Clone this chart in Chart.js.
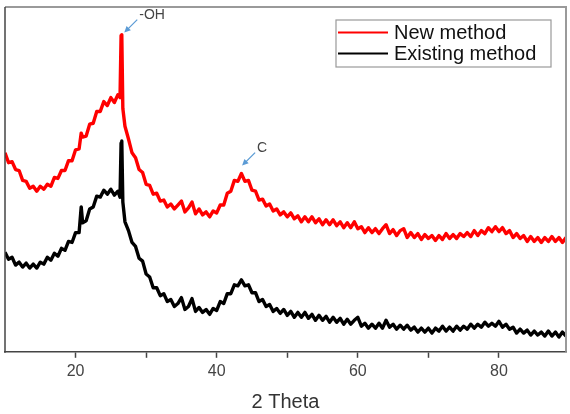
<!DOCTYPE html>
<html>
<head>
<meta charset="utf-8">
<script src="https://cdn.jsdelivr.net/npm/chart.js@4/dist/chart.umd.min.js"></script>
<style>
  html, body { margin: 0; padding: 0; background: #fff; }
  #wrap { width: 570px; height: 414px; }
</style>
</head>
<body>
<div id="wrap"><canvas id="c" width="570" height="414"></canvas></div>
<script>
// ---- data (2θ in degrees, intensity in arbitrary units) ----
const twoTheta = [
  10,10.5,11,11.5,12,12.5,13,13.5,14,14.5,15,15.5,16,16.5,17,17.5,18,18.5,19,19.5,20,20.5,20.8,
  21,21.5,22,22.5,23,23.5,24,24.5,25,25.5,26,26.3,26.45,26.55,26.7,
  27,27.5,28,28.5,29,29.5,30,30.5,31,31.5,32,32.5,33,33.5,34,34.5,35,35.5,36,36.5,37,37.5,38,38.5,39,39.5,
  40,40.5,41,41.5,42,42.5,43,43.5,44,44.5,45,45.5,46,46.5,47,47.5,48,48.5,49,49.5,
  50,50.5,51,51.5,52,52.5,53,53.5,54,54.5,55,55.5,56,56.5,57,57.5,58,58.5,59,59.5,
  60,60.5,61,61.5,62,62.5,63,63.5,64,64.5,65,65.5,66,66.5,67,67.5,68,68.5,69,69.5,
  70,70.5,71,71.5,72,72.5,73,73.5,74,74.5,75,75.5,76,76.5,77,77.5,78,78.5,79,79.5,
  80,80.5,81,81.5,82,82.5,83,83.5,84,84.5,85,85.5,86,86.5,87,87.5,88,88.5,89,89.5
];
const newMethod = [
  202,192,193,185,184,174,173,166,168,163,168,165,170,168,177,176,184,184,194,194,205,206,222,
  218,219,231,232,244,244,254,250,258,253,261,258,321,322,247,
  229,216,202,197,185,182,170,169,160,161,153,154,147,150,145,149,153,142,146,152,140,145,139,142,137,143,
  141,149,149,161,163,174,173,181,173,174,164,163,154,155,148,150,143,145,139,142,
  137,141,135,138,132,137,132,137,131,135,129,134,129,134,128,132,126,131,126,132,
  125,127,121,126,121,125,120,125,129,120,124,118,123,125,116,121,116,120,114,119,
  115,118,113,118,114,120,115,119,115,120,117,121,117,123,118,123,120,126,122,127,
  122,126,120,123,116,120,115,118,112,117,112,116,111,116,112,117,112,116,111,116
];
const existingMethod = [
  101,94,96,88,91,86,90,85,89,85,91,89,96,93,100,97,105,103,112,111,121,121,147,
  131,133,145,147,158,157,164,160,165,159,163,157,212,214,152,
  132,123,111,107,95,92,79,76,65,65,57,59,51,53,46,49,55,43,46,54,41,45,40,43,38,44,
  42,51,49,59,59,68,67,73,67,68,60,60,51,53,46,48,41,44,39,43,
  37,41,35,40,35,40,34,38,32,37,32,36,30,35,30,34,28,33,28,32,
  35,26,29,24,28,24,29,24,32,25,28,23,27,23,27,22,25,20,24,20,
  24,19,24,21,26,21,25,21,26,22,26,23,28,24,28,25,30,26,29,26,
  31,25,28,23,25,19,23,19,22,17,21,17,20,16,21,16,20,15,20,16
];
const seriesNames = ['New method', 'Existing method'];
const seriesColors = ['#ff0000', '#000000'];
const xTickValues = [20, 30, 40, 50, 60, 70, 80];
const xLabelledTicks = [20, 40, 60, 80];
const peakNotes = [
  { text: '-OH', x: 26.9, y: 324 },
  { text: 'C',   x: 43.6, y: 189 }
];

const toPoints = arr => twoTheta.map((x, i) => ({ x: x, y: arr[i] }));

const framePlugin = {
  id: 'frame',
  afterDraw(chart) {
    const { ctx, chartArea: a, scales } = chart;
    ctx.save();
    // top & right frame (light gray)
    ctx.strokeStyle = '#9a9a9a';
    ctx.lineWidth = 2;
    ctx.beginPath();
    ctx.moveTo(a.left, a.top); ctx.lineTo(a.right, a.top); ctx.lineTo(a.right, a.bottom);
    ctx.stroke();
    // left axis line
    ctx.strokeStyle = '#444';
    ctx.lineWidth = 1.5;
    ctx.beginPath();
    ctx.moveTo(a.left, a.top); ctx.lineTo(a.left, a.bottom + 1);
    ctx.stroke();

    // peak annotations
    peakNotes.forEach(n => {
      const tx = scales.x.getPixelForValue(n.x);
      const ty = scales.y.getPixelForValue(n.y);
      const sx = tx + 13, sy = ty - 13;
      ctx.strokeStyle = '#5b9bd5';
      ctx.fillStyle = '#5b9bd5';
      ctx.lineWidth = 1.3;
      ctx.beginPath();
      ctx.moveTo(sx, sy); ctx.lineTo(tx + 3, ty - 3);
      ctx.stroke();
      const ang = Math.atan2(ty - sy, tx - sx);
      ctx.beginPath();
      ctx.moveTo(tx, ty);
      ctx.lineTo(tx - 7 * Math.cos(ang - 0.45), ty - 7 * Math.sin(ang - 0.45));
      ctx.lineTo(tx - 7 * Math.cos(ang + 0.45), ty - 7 * Math.sin(ang + 0.45));
      ctx.closePath();
      ctx.fill();
      ctx.fillStyle = '#444';
      ctx.font = '14px "Liberation Sans", Arial, sans-serif';
      ctx.textAlign = 'left';
      ctx.textBaseline = 'middle';
      ctx.fillText(n.text, sx + 2, sy - 4);
    });

    // legend box
    const lx = 336, ly = 20, lw = 215, lh = 47;
    ctx.fillStyle = '#fff';
    ctx.fillRect(lx, ly, lw, lh);
    ctx.strokeStyle = '#999';
    ctx.lineWidth = 1.2;
    ctx.strokeRect(lx, ly, lw, lh);
    chart.data.datasets.forEach((ds, i) => {
      const yy = ly + 12.5 + i * 21;
      ctx.strokeStyle = ds.borderColor;
      ctx.lineWidth = 2;
      ctx.beginPath();
      ctx.moveTo(lx + 2, yy); ctx.lineTo(lx + 52, yy);
      ctx.stroke();
      ctx.fillStyle = '#111';
      ctx.font = '20px "Liberation Sans", Arial, sans-serif';
      ctx.textAlign = 'left';
      ctx.textBaseline = 'middle';
      ctx.fillText(ds.label, lx + 58, yy + 0.5);
    });
    ctx.restore();
  }
};

new Chart(document.getElementById('c'), {
  type: 'line',
  data: {
    datasets: [
      { label: seriesNames[0], data: toPoints(newMethod), borderColor: seriesColors[0], backgroundColor: seriesColors[0],
        borderWidth: 3.4, borderJoinStyle: 'round', pointRadius: 0, tension: 0, order: 1 },
      { label: seriesNames[1], data: toPoints(existingMethod), borderColor: seriesColors[1], backgroundColor: seriesColors[1],
        borderWidth: 3.4, borderJoinStyle: 'round', pointRadius: 0, tension: 0, order: 2 }
    ]
  },
  options: {
    responsive: false,
    animation: false,
    layout: { padding: { left: 5, top: 7, right: 4, bottom: 0 } },
    plugins: { legend: { display: false }, tooltip: { enabled: false } },
    scales: {
      x: {
        type: 'linear',
        min: 10, max: 89.5,
        afterBuildTicks: s => { s.ticks = xTickValues.map(v => ({ value: v })); },
        ticks: {
          autoSkip: false, maxRotation: 0,
          color: '#444', padding: 4,
          font: { size: 16, family: '"Liberation Sans", Arial, sans-serif' },
          callback: v => xLabelledTicks.includes(v) ? String(v) : ''
        },
        grid: { drawOnChartArea: false, drawTicks: true, tickLength: 6, tickColor: '#444', tickWidth: 1.5 },
        border: { display: true, color: '#444', width: 1.5 },
        title: {
          display: true, text: '2 Theta', color: '#333',
          font: { size: 20, family: '"Liberation Sans", Arial, sans-serif' },
          padding: { top: 5, bottom: 0 }
        }
      },
      y: { display: false, min: 0, max: 350 }
    }
  },
  plugins: [framePlugin]
});
</script>
</body>
</html>
